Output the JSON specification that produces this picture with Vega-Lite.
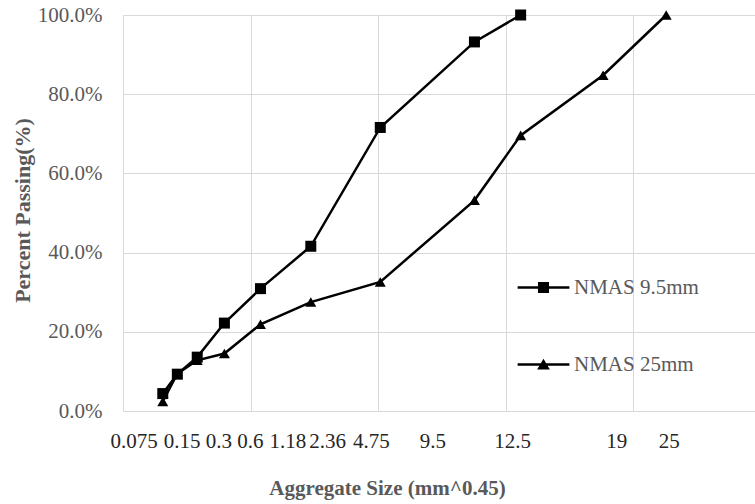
{
  "$schema": "https://vega.github.io/schema/vega-lite/v6.json",
  "width": 632,
  "height": 396,
  "autosize": {"type": "none"},
  "padding": {"left": 123, "top": 15, "right": 0, "bottom": 93},
  "background": "white",
  "config": {"view": {"stroke": null}, "font": "Times New Roman, Liberation Serif, serif"},
  "data": {
    "values": [
      {"series": "NMAS 9.5mm", "size": 0.075, "pct": 0.044},
      {"series": "NMAS 9.5mm", "size": 0.15, "pct": 0.093},
      {"series": "NMAS 9.5mm", "size": 0.3, "pct": 0.136},
      {"series": "NMAS 9.5mm", "size": 0.6, "pct": 0.222},
      {"series": "NMAS 9.5mm", "size": 1.18, "pct": 0.309},
      {"series": "NMAS 9.5mm", "size": 2.36, "pct": 0.416},
      {"series": "NMAS 9.5mm", "size": 4.75, "pct": 0.716},
      {"series": "NMAS 9.5mm", "size": 9.5, "pct": 0.932},
      {"series": "NMAS 9.5mm", "size": 12.5, "pct": 1.0},
      {"series": "NMAS 25mm", "size": 0.075, "pct": 0.024},
      {"series": "NMAS 25mm", "size": 0.15, "pct": 0.094},
      {"series": "NMAS 25mm", "size": 0.3, "pct": 0.128},
      {"series": "NMAS 25mm", "size": 0.6, "pct": 0.145},
      {"series": "NMAS 25mm", "size": 1.18, "pct": 0.219},
      {"series": "NMAS 25mm", "size": 2.36, "pct": 0.275},
      {"series": "NMAS 25mm", "size": 4.75, "pct": 0.326},
      {"series": "NMAS 25mm", "size": 9.5, "pct": 0.532},
      {"series": "NMAS 25mm", "size": 12.5, "pct": 0.696},
      {"series": "NMAS 25mm", "size": 19, "pct": 0.848},
      {"series": "NMAS 25mm", "size": 25, "pct": 1.0}
    ]
  },
  "encoding": {
    "y": {
      "field": "pct",
      "type": "quantitative",
      "scale": {"domain": [0, 1], "nice": false},
      "axis": {
        "values": [0, 0.2, 0.4, 0.6, 0.8, 1],
        "format": ".1%",
        "grid": true,
        "gridColor": "#d9d9d9",
        "gridWidth": 1,
        "domain": false,
        "ticks": false,
        "labelFont": "Times New Roman, Liberation Serif, serif",
        "labelFontSize": 21,
        "labelColor": "#595959",
        "labelPadding": 21,
        "title": "Percent Passing(%)",
        "titleFont": "Times New Roman, Liberation Serif, serif",
        "titleFontSize": 22,
        "titleFontWeight": "bold",
        "titleColor": "#595959",
        "titleAngle": 270,
        "titleX": -101,
        "titleY": 195,
        "titleAlign": "center",
        "titleBaseline": "middle"
      }
    }
  },
  "layer": [
    {
      "mark": {"type": "line", "color": "black", "strokeWidth": 2.5},
      "encoding": {
        "x": {
          "field": "size",
          "type": "quantitative",
          "scale": {"type": "pow", "exponent": 0.45, "domain": [0, 35], "nice": false, "zero": true},
          "axis": {
            "orient": "bottom",
            "values": [0, 1, 4.665, 11.49, 21.77],
            "grid": true,
            "gridColor": "#d9d9d9",
            "gridWidth": 1,
            "labels": false,
            "ticks": false,
            "domain": false,
            "title": null
          }
        },
        "detail": {"field": "series", "type": "nominal"}
      }
    },
    {
      "mark": {"type": "point", "filled": true, "color": "black", "opacity": 1, "size": 121},
      "encoding": {
        "x": {
          "field": "size",
          "type": "quantitative",
          "axis": {
            "orient": "bottom",
            "values": [0.00396, 0.1772, 0.5245, 0.9867, 1.755, 2.842, 4.371, 7.155, 11.92, 20.18, 25.25],
            "labelExpr": "['0.075','0.15','0.3','0.6','1.18','2.36','4.75','9.5','12.5','19','25'][indexof([0.00396, 0.1772, 0.5245, 0.9867, 1.755, 2.842, 4.371, 7.155, 11.92, 20.18, 25.25], datum.value)]",
            "grid": false,
            "ticks": false,
            "domain": false,
            "labelOverlap": false,
            "labelFlush": false,
            "labelFont": "Times New Roman, Liberation Serif, serif",
            "labelFontSize": 21,
            "labelColor": "#262626",
            "labelPadding": 19,
            "title": "Aggregate Size (mm^0.45)",
            "titleFont": "Times New Roman, Liberation Serif, serif",
            "titleFontSize": 21,
            "titleFontWeight": "bold",
            "titleColor": "#595959",
            "titleX": 264,
            "titleY": 83,
            "titleAlign": "center",
            "titleBaseline": "alphabetic"
          }
        },
        "shape": {
          "field": "series",
          "type": "nominal",
          "scale": {"domain": ["NMAS 9.5mm", "NMAS 25mm"], "range": ["square", "triangle-up"]},
          "legend": null
        }
      }
    },
    {
      "mark": {"type": "point", "filled": true, "color": "black", "opacity": 0, "size": 72},
      "encoding": {
        "x": {"field": "size", "type": "quantitative", "axis": null},
        "shape": {
          "field": "series",
          "type": "nominal",
          "scale": {
            "domain": ["NMAS 9.5mm", "NMAS 25mm"],
            "range": [
              "M-6.1,-0.3H6.1V0.3H-6.1ZM-1.3,-1.3H1.3V1.3H-1.3Z",
              "M-6.1,-0.3H6.1V0.3H-6.1ZM0,-1.35L1.5,1.15H-1.5Z"
            ]
          },
          "legend": {
            "title": null,
            "orient": "none",
            "direction": "vertical",
            "legendX": 410,
            "legendY": 262,
            "labelFont": "Times New Roman, Liberation Serif, serif",
            "labelFontSize": 21,
            "labelColor": "#595959",
            "labelOffset": 20,
            "rowPadding": 55,
            "symbolSize": 72,
            "symbolFillColor": "black",
            "symbolStrokeWidth": 0,
            "symbolOpacity": 1
          }
        }
      }
    }
  ],
  "resolve": {"scale": {"shape": "independent"}, "axis": {"x": "independent"}}
}
